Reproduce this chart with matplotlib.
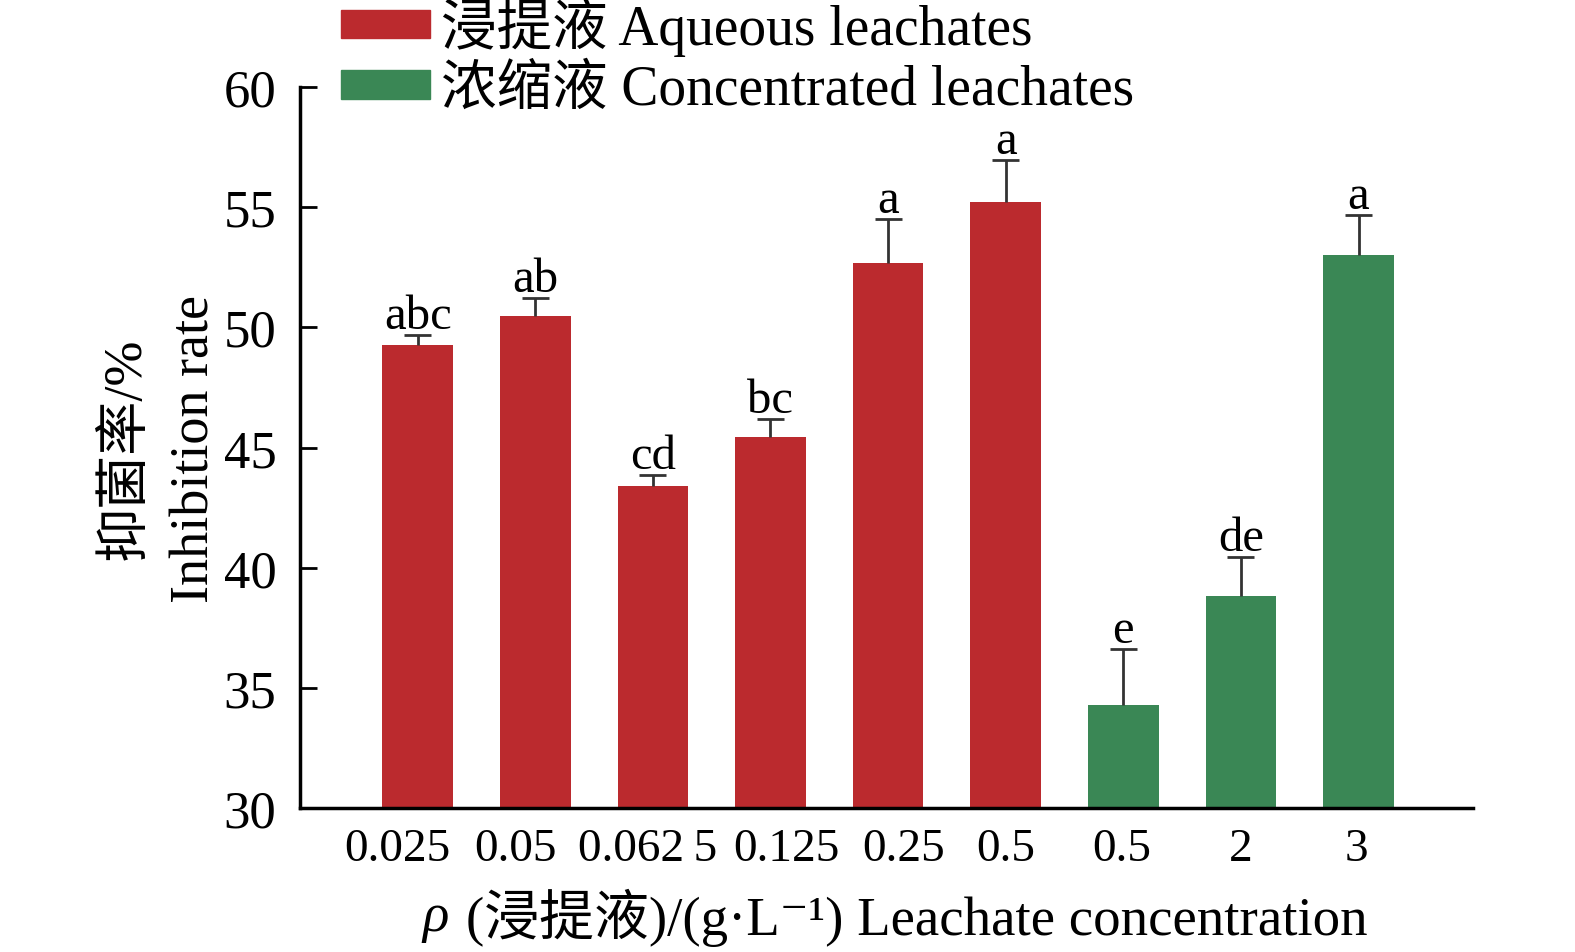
import matplotlib
matplotlib.use("Agg")
import matplotlib.pyplot as plt
import matplotlib.transforms as mtransforms
from matplotlib.patches import Patch

plt.rcParams["font.family"] = ["Liberation Serif", "Noto Sans CJK SC", "DejaVu Serif"]

# data
labels = ["0.025", "0.05", "0.062\u20095", "0.125", "0.25", "0.5", "0.5", "2", "3"]
values = [49.27, 50.47, 43.40, 45.44, 52.68, 55.22, 34.29, 38.82, 53.01]
errors = [0.42, 0.75, 0.46, 0.75, 1.83, 1.75, 2.33, 1.62, 1.66]
letters = ["abc", "ab", "cd", "bc", "a", "a", "e", "de", "a"]
groups = ["aq"] * 6 + ["conc"] * 3

colors = {"aq": "#BB2A2E", "conc": "#3A8755"}
names = {"aq": "浸提液 Aqueous leachates", "conc": "浓缩液 Concentrated leachates"}
# the tick labels are not quite centred under the bars in the original
label_shift_px = [-20, -20, -5, 16, 16, 0, -2, 0, -2]

fig = plt.figure(figsize=(15.75, 9.53), dpi=100)
ax = fig.add_axes([0.1905, 0.151, 0.935 - 0.1905, 0.9077 - 0.151])

x = list(range(len(values)))
tops = [v + e for v, e in zip(values, errors)]
ax.bar(x, [v - 30 for v in values], bottom=30, width=0.6,
       color=[colors[g] for g in groups], zorder=2)
# upper-only error bars
ax.vlines(x, values, tops, color="#333333", lw=2, zorder=3)
ax.hlines(tops, [xi - 0.115 for xi in x], [xi + 0.115 for xi in x],
          color="#333333", lw=2, zorder=3)
for xi, t, s in zip(x, tops, letters):
    ax.annotate(s, (xi, t), xytext=(0, 5), textcoords="offset points",
                ha="center", va="baseline", fontsize=35)

ax.set_xlim(-1, 8.97)
ax.set_ylim(30, 60)
ax.set_yticks(range(30, 61, 5))
ax.set_xticks(x)
ax.set_xticklabels(labels)
ax.tick_params(axis="y", direction="in", length=12, width=2, pad=17, labelsize=38)
ax.tick_params(axis="x", length=0, pad=14, labelsize=34)
for lab, dx in zip(ax.get_xticklabels(), label_shift_px):
    lab.set_transform(lab.get_transform() +
                      mtransforms.ScaledTranslation(dx / 100, 0, fig.dpi_scale_trans))
for s in ["top", "right"]:
    ax.spines[s].set_visible(False)
for s in ["left", "bottom"]:
    ax.spines[s].set_linewidth(2.5)

ax.set_ylabel("抑菌率/%\nInhibition rate", fontsize=39, linespacing=1.5, labelpad=2)
ax.set_xlabel("(浸提液)/(g·L⁻¹) Leachate concentration", fontsize=39.5)
ax.xaxis.set_label_coords(0.526, -0.11)

handles = [Patch(color=colors[k]) for k in ["aq", "conc"]]
fig.legend(handles, [names["aq"], names["conc"]], loc="upper left",
           bbox_to_anchor=(0.2025, 1.026), frameon=False, fontsize=40,
           handlelength=1.6, handleheight=0.42, handletextpad=0.2,
           labelspacing=0.15, borderaxespad=0)

# italic rho in front of the x label
fig.canvas.draw()
bb = ax.xaxis.label.get_window_extent()
fx, fy = fig.transFigure.inverted().transform((bb.x0, bb.y0 + bb.height / 2))
fig.text(fx - 0.011, fy, "ρ", fontsize=39.5, style="italic",
         ha="right", va="center", family="Liberation Serif")

fig.savefig("out.png", dpi=100)
